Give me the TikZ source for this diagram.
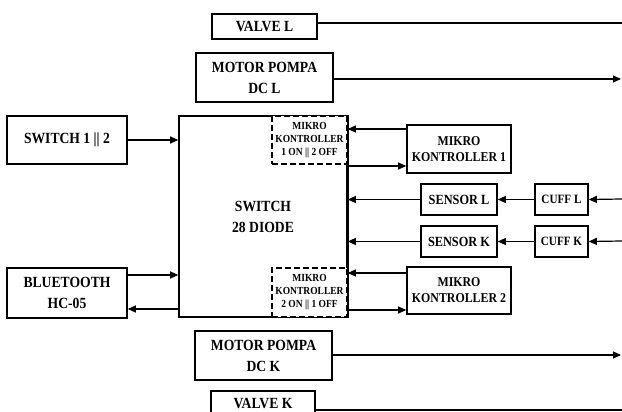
\documentclass[tikz,border=0pt]{standalone}
\usepackage{fontspec}
\setmainfont{Liberation Serif}[FakeStretch=0.88]
\usetikzlibrary{positioning,arrows.meta,calc}

\begin{document}
\begin{tikzpicture}[x=1pt,y=-1pt,
    every node/.style={font=\bfseries\fontsize{15.5}{21}\selectfont},
    blok/.style={draw,line width=1.6pt,align=center,inner sep=0pt},
    putus/.style={draw,line width=1.4pt,dash pattern=on 6pt off 3pt,align=center,inner sep=0pt,
                  font=\bfseries\fontsize{10.8}{13}\selectfont},
    kecil/.style={font=\bfseries\fontsize{13.5}{16}\selectfont},
    ar/.style={-{Triangle[length=8pt,width=7pt]},line width=1.2pt},
    ln/.style={line width=1.2pt}]
  \useasboundingbox (0,0) rectangle (622,412);
  % kotak utama
  \node[blok,minimum width=168pt,minimum height=201pt] (main) at (263,216.5)
    {SWITCH\\28 DIODE};
  \node[putus,minimum width=75pt,minimum height=48pt,fill=white] (mkon1) at (309.5,140)
    {MIKRO\\KONTROLLER\\1 ON || 2 OFF};
  \node[putus,minimum width=75pt,minimum height=49pt,fill=white] (mkon2) at (309.5,292.5)
    {MIKRO\\KONTROLLER\\2 ON || 1 OFF};
  \draw[line width=1.6pt] (main.north east) -- (main.south east);
  % kiri
  \node[blok,minimum width=120pt,minimum height=48pt] (sw) at (67,140) {SWITCH 1 || 2};
  \node[blok,minimum width=120pt,minimum height=50pt] (bt) at (67,293) {BLUETOOTH\\HC-05};
  % atas & bawah
  \node[blok,minimum width=105pt,minimum height=25pt] (valveL) at (264.5,26.5) {VALVE L};
  \node[blok,minimum width=137pt,minimum height=49pt] (motorL) at (264.5,77.5) {MOTOR POMPA\\DC L};
  \node[blok,minimum width=137pt,minimum height=49pt] (motorK) at (263.5,355.5) {MOTOR POMPA\\DC K};
  \node[blok,minimum width=104pt,minimum height=25pt] (valveK) at (263,403.5) {VALVE K};
  % kanan
  \node[blok,minimum width=104pt,minimum height=48pt,kecil] (mk1) at (459,149) {MIKRO\\KONTROLLER 1};
  \node[blok,minimum width=104pt,minimum height=47pt,kecil] (mk2) at (459,290.5) {MIKRO\\KONTROLLER 2};
  \node[blok,minimum width=76pt,minimum height=31pt,font=\bfseries\fontsize{14}{16}\selectfont]
    (sensL) at (459,199.5) {SENSOR L};
  \node[blok,minimum width=76pt,minimum height=31pt,font=\bfseries\fontsize{14}{16}\selectfont]
    (sensK) at (459,241.5) {SENSOR K};
  \node[blok,minimum width=53pt,minimum height=31pt,font=\bfseries\fontsize{12.7}{14}\selectfont]
    (cuffL) at (561.5,199.5) {CUFF L};
  \node[blok,minimum width=53pt,minimum height=31pt,font=\bfseries\fontsize{12.7}{14}\selectfont]
    (cuffK) at (561.5,241.5) {CUFF K};
  % ujung bebas
  \coordinate (kaVL) at (622,23);
  \coordinate (kaML) at (621,79);
  \coordinate (kaCL) at (622,199);
  \coordinate (kaCK) at (622,241);
  \coordinate (kaMK) at (621,355);
  \coordinate (kaVK) at (622,410);
  \coordinate (btin) at ([yshift=18]bt.east);
  \coordinate (btout) at ([yshift=-16]bt.east);
  \coordinate (mk1in) at ([yshift=20]mk1.west);
  \coordinate (mk1out) at ([yshift=-17]mk1.west);
  \coordinate (mk2in) at ([yshift=17.5]mk2.west);
  \coordinate (mk2out) at ([yshift=-19.5]mk2.west);
  % panah
  \draw[ln] (valveL.east|-kaVL) -- (kaVL);
  \draw[ar] (motorL.east|-kaML) -- (kaML);
  \draw[ar] (sw.east) -- (main.west|-sw.east);
  \draw[ar] (btin) -- (main.west|-btin);
  \draw[ar] (main.west|-btout) -- (btout);
  \draw[ar] (mk1in) -- (main.east|-mk1in);
  \draw[ar] (main.east|-mk1out) -- (mk1out);
  \draw[ar] (mk2in) -- (main.east|-mk2in);
  \draw[ar] (main.east|-mk2out) -- (mk2out);
  \draw[ar] (sensL.west) -- (main.east|-sensL.west);
  \draw[ar] (sensK.west) -- (main.east|-sensK.west);
  \draw[ar] (cuffL.west) -- (sensL.east);
  \draw[ar] (cuffK.west) -- (sensK.east);
  \draw[ar] (kaCL) -- (cuffL.east);
  \draw[ar] (kaCK) -- (cuffK.east);
  \draw[ar] (motorK.east|-kaMK) -- (kaMK);
  \draw[ln] (valveK.east|-kaVK) -- (kaVK);
\end{tikzpicture}
\end{document}
